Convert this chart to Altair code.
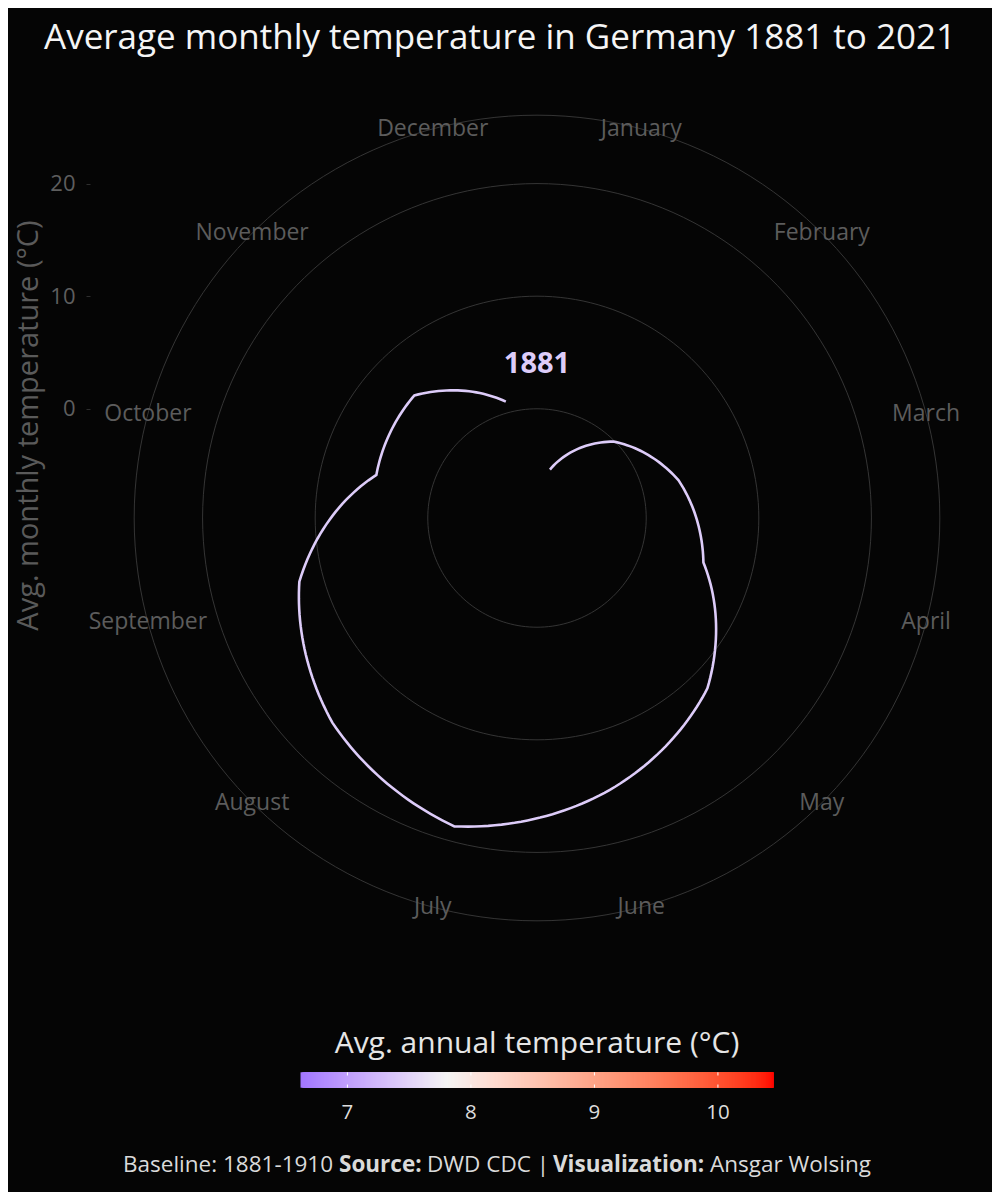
import altair as alt
import pandas as pd

# ---------------- data ----------------
YEAR = 1881
MONTHS = ["January", "February", "March", "April", "May", "June", "July",
          "August", "September", "October", "November", "December"]
MONTH_NUM = list(range(1, 13))
TEMPS = [-5.25, -0.1, 3.3, 5.6, 11.7, 15.3, 18.65, 16.0, 12.15, 5.07, 5.7, 1.0]
RADIAL_BREAKS = [0, 10, 20]
RADIAL_LIMITS = [-9.7, 22.1]
LEGEND_VALUES = [7, 8, 9, 10]
COLOR_DOMAIN = [6.62, 7.8, 10.45]
COLOR_RANGE = ["#a277ff", "#f4f4f4", "#ff0000"]

CAPTION_PARTS = ["Baseline: 1881-1910", "Source:", "DWD CDC |", "Visualization:", "Ansgar Wolsing"]
CAPTION_BOLD = [False, True, False, True, False]

# ---------------- style / geometry ----------------
BG = "#050505"
FONT = "Open Sans"
PX_PER_DEG = 11.26
HALF = 447
R = HALF / PX_PER_DEG
OFF = -RADIAL_LIMITS[0]
RHO_OUTER = (RADIAL_LIMITS[1] - RADIAL_LIMITS[0]) * 0.45 / 0.4
YEAR_LABEL_RHO = 13.72

# colour bar geometry (pixel offsets from the polar centre, converted to plot units)
def u(px_offset):
    return px_offset / PX_PER_DEG

BAR_LEN = 473
LEG_MID = (COLOR_DOMAIN[0] + COLOR_DOMAIN[-1]) / 2
LEG_K = u(BAR_LEN) / (COLOR_DOMAIN[-1] - COLOR_DOMAIN[0])
BAR_TOP, BAR_BOT = u(-554.3), u(-569.7)
TICK_LEN = u(3.2)
LEG_TITLE_Y = u(-526)
LEG_LABEL_Y = u(-595)

df = pd.DataFrame({"month": MONTH_NUM, "name": MONTHS, "temp": TEMPS, "year": [str(YEAR)] * 12})
rings = pd.DataFrame({"ring": [str(b) for b in RADIAL_BREAKS] + ["outer"],
                      "rho": [b + OFF for b in RADIAL_BREAKS] + [RHO_OUTER]})

xs = alt.Scale(domain=[-R, R], nice=False, zero=False)
ys = alt.Scale(domain=[-R, R], nice=False, zero=False)

y_axis = alt.Axis(
    values=[b + OFF for b in RADIAL_BREAKS],
    labelExpr=f"format(datum.value - {OFF}, '.0f')",
    domain=False, grid=False, ticks=True, tickSize=4, tickColor="#2e2e2e",
    labelColor="#5e5e5e", labelFontSize=22, labelFont=FONT, labelPadding=11,
    title="Avg. monthly temperature (°C)", titleColor="#5a5a5a", titleFontSize=29,
    titleFont=FONT, titleFontWeight="normal", titleAngle=270,
    titleX=-62, titleY=354, titleAlign="center", titleBaseline="middle",
    titleLimit=800,
)

color_scale = alt.Scale(domain=COLOR_DOMAIN, range=COLOR_RANGE, interpolate="lab")

X = lambda f: alt.X(f, type="quantitative", scale=xs, axis=None)
Y = lambda f: alt.Y(f, type="quantitative", scale=ys, axis=y_axis)
XD = lambda v: alt.XDatum(v, type="quantitative", scale=xs, axis=None)
YD = lambda v: alt.YDatum(v, type="quantitative", scale=ys, axis=y_axis)

grid = alt.Chart(rings).transform_calculate(
    a="sequence(0, 362, 2)"
).transform_flatten(["a"]).transform_calculate(
    px="datum.rho * sin(datum.a * PI / 180)",
    py="datum.rho * cos(datum.a * PI / 180)",
).mark_line(color="#3a3a3a", strokeWidth=0.9).encode(
    x=X("px"), y=Y("py"), detail="ring:N", order="a:Q"
)

month_labels = alt.Chart(df).transform_calculate(
    ang="(datum.month - 0.5) / 12 * 2 * PI"
).transform_calculate(
    px=f"{RHO_OUTER} * sin(datum.ang)",
    py=f"{RHO_OUTER} * cos(datum.ang)",
).mark_text(font=FONT, fontSize=23, color="#5c5c5c", align="center", baseline="middle").encode(
    x=X("px"), y=Y("py"), text="name:N"
)

spiral = alt.Chart(df).transform_joinaggregate(
    annual="mean(temp)"
).transform_window(
    next_temp="lead(temp)", sort=[alt.SortField("month")]
).transform_calculate(
    steps="sequence(0, 1.0001, 0.04)"
).transform_flatten(["steps"], as_=["s"]).transform_filter(
    "datum.s == 0 || isValid(datum.next_temp)"
).transform_calculate(
    t="datum.month + datum.s",
    tt="isValid(datum.next_temp) ? datum.temp + datum.s * (datum.next_temp - datum.temp) : datum.temp",
).transform_calculate(
    rho=f"datum.tt + {OFF}",
    ang="(datum.t - 0.5) / 12 * 2 * PI",
).transform_calculate(
    px="datum.rho * sin(datum.ang)",
    py="datum.rho * cos(datum.ang)",
).mark_line(strokeWidth=2.6, strokeJoin="miter").encode(
    x=X("px"), y=Y("py"), order="t:Q",
    color=alt.Color("annual:Q", scale=color_scale, legend=None),
)

year_label = alt.Chart(df).transform_joinaggregate(
    annual="mean(temp)"
).transform_filter("datum.month == 1").mark_text(
    font=FONT, fontSize=29, fontWeight="bold", align="center", baseline="middle"
).encode(
    x=XD(0), y=YD(YEAR_LABEL_RHO), text="year:N",
    fill=alt.Fill("annual:Q", scale=color_scale, legend=None),
)

# ---------------- colour bar (legend) ----------------
bar = alt.Chart(pd.DataFrame({"lo": [COLOR_DOMAIN[0]], "hi": [COLOR_DOMAIN[-1]]})).transform_calculate(
    v="sequence(datum.lo, datum.hi, 0.01)"
).transform_flatten(["v"]).transform_calculate(
    x1=f"(datum.v - {LEG_MID}) * {LEG_K}",
    x2=f"(min(datum.v + 0.045, datum.hi) - {LEG_MID}) * {LEG_K}",
    y1=f"{BAR_TOP}",
    y2=f"{BAR_BOT}",
).mark_rect(strokeWidth=0).encode(
    x=X("x1"), x2=alt.X2("x2"), y=Y("y1"), y2=alt.Y2("y2"),
    fill=alt.Fill("v:Q", scale=color_scale, legend=None),
    order=alt.Order("v:Q"),
)

leg_vals = pd.DataFrame({"v": LEGEND_VALUES})
ticks_base = alt.Chart(leg_vals).transform_calculate(
    px=f"(datum.v - {LEG_MID}) * {LEG_K}",
    t1=f"{BAR_TOP}", t2=f"{BAR_TOP - TICK_LEN}",
    b1=f"{BAR_BOT + TICK_LEN}", b2=f"{BAR_BOT}",
)
ticks_top = ticks_base.mark_rule(color="#ffffff", strokeWidth=1).encode(
    x=X("px"), y=Y("t1"), y2=alt.Y2("t2"))
ticks_bot = ticks_base.mark_rule(color="#ffffff", strokeWidth=1).encode(
    x=X("px"), y=Y("b1"), y2=alt.Y2("b2"))
leg_labels = ticks_base.mark_text(
    font=FONT, fontSize=20.5, color="#dddddd", align="center", baseline="middle"
).encode(x=X("px"), y=YD(LEG_LABEL_Y), text=alt.Text("v:Q", format="d"))

leg_title = alt.Chart(pd.DataFrame({"t": ["Avg. annual temperature (°C)"]})).mark_text(
    font=FONT, fontSize=30, color="#e6e6e6", align="center", baseline="middle"
).encode(x=XD(0), y=YD(LEG_TITLE_Y), text="t:N")

# ---------------- caption ----------------
cap_x = [33, 249, 337, 463, 620]
caption_layers = []
for txt, bold, cx in zip(CAPTION_PARTS, CAPTION_BOLD, cap_x):
    caption_layers.append(
        alt.Chart(pd.DataFrame({"t": [txt]})).mark_text(
            font=FONT, fontSize=22.5, fontWeight="bold" if bold else "normal",
            color="#dadada", align="left", baseline="middle"
        ).encode(x=alt.value(cx), y=alt.value(1094), text="t:N")
    )

chart = alt.layer(
    grid, month_labels, spiral, year_label,
    bar, ticks_top, ticks_bot, leg_labels, leg_title,
    *caption_layers
).properties(
    width=2 * HALF, height=2 * HALF,
    padding={"left": 82, "top": 63, "right": 8, "bottom": 227},
    autosize=alt.AutoSizeParams(type="none"),
    background=BG,
    title=alt.TitleParams(
        "Average monthly temperature in Germany 1881 to 2021",
        font=FONT, fontSize=35, fontWeight="normal", color="#f5f5f5",
        anchor="middle", dx=-37, dy=37, offset=24, baseline="alphabetic",
    ),
).configure_view(strokeWidth=0)

chart.save("out.html", embed_options={"renderer": "svg", "actions": False})
